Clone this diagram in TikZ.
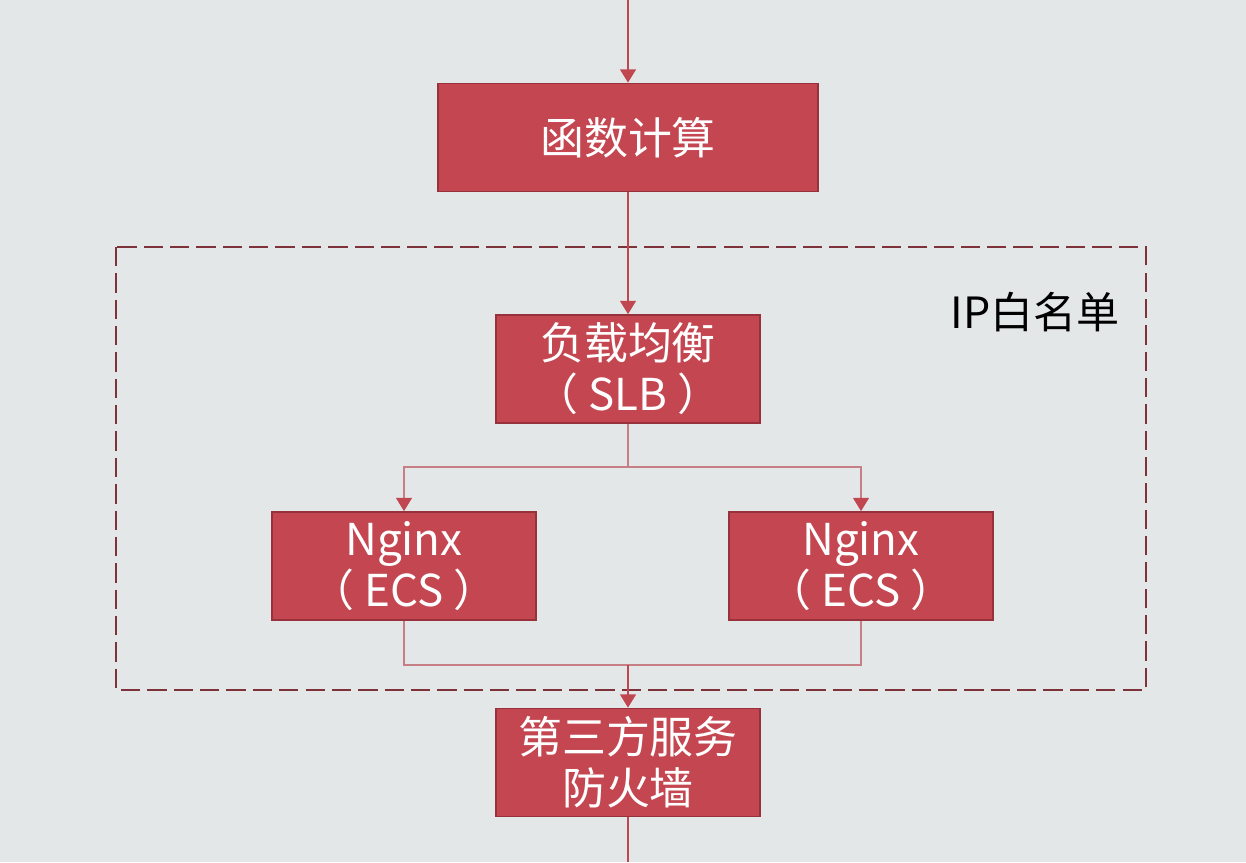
\documentclass[tikz,border=0pt]{standalone}
\usepackage{fontspec}
\setmainfont{Noto Sans CJK SC}
\usetikzlibrary{arrows.meta,positioning}
\definecolor{bgGrey}{HTML}{E4E7E7}
\definecolor{boxRed}{HTML}{C44650}
\definecolor{boxEdge}{HTML}{97323C}
\definecolor{lineRed}{HTML}{C0464F}
\definecolor{branchRed}{HTML}{C77F86}
\definecolor{dashRed}{HTML}{7E3239}
\tikzset{%
  block/.style={draw=boxEdge, fill=boxRed, line width=1pt, text=white, align=center,
                inner sep=0pt, minimum width=5.28cm, minimum height=2.16cm,
                font=\fontsize{25}{29}\selectfont},
  tip/.style={-{Triangle[width=9pt, length=7.5pt, color=lineRed]}},
  flow/.style={draw=lineRed, line width=0.8pt, tip},
  branch/.style={draw=branchRed, line width=0.8pt},
  whitelist/.style={draw=dashRed, line width=1.2pt, dash pattern=on 11pt off 4pt},
}

\begin{document}
\begin{tikzpicture}[x=0.02cm, y=-0.02cm]
    \useasboundingbox[fill=bgGrey] (0,0) rectangle (1246,862);

    %whitelist region
    \draw[whitelist] (116,247) rectangle (1146,690);
    \node[font=\fontsize{24.5}{29}\selectfont] (ip) at (1035,312) {IP白名单};

    %boxes
    \node[block, minimum width=7.6cm] (fc) at (628,137.5) {函数计算};
    \node[block] (slb) at (628,369) {负载均衡\\（ SLB ）};
    \node[block] (ngl) at (404,566) {Nginx\\（ ECS ）};
    \node[block] (ngr) at (861,566) {Nginx\\（ ECS ）};
    \node[block] (fw) at (628,762.5) {第三方服务\\防火墙};

    \coordinate (top) at (628,0);
    \coordinate (split) at (628,467);
    \coordinate (merge) at (628,665);
    \coordinate (bottom) at (628,862);

    %connectors
    \draw[flow] (top) -- (fc);
    \draw[flow] (fc) -- (slb);
    \draw[branch] (slb) -- (split);
    \draw[branch, tip] (split) -| (ngl);
    \draw[branch, tip] (split) -| (ngr);
    \draw[branch] (ngl) |- (merge);
    \draw[branch] (ngr) |- (merge);
    \draw[flow] (merge) -- (fw);
    \draw[draw=lineRed, line width=0.8pt] (fw) -- (bottom);
\end{tikzpicture}
\end{document}
